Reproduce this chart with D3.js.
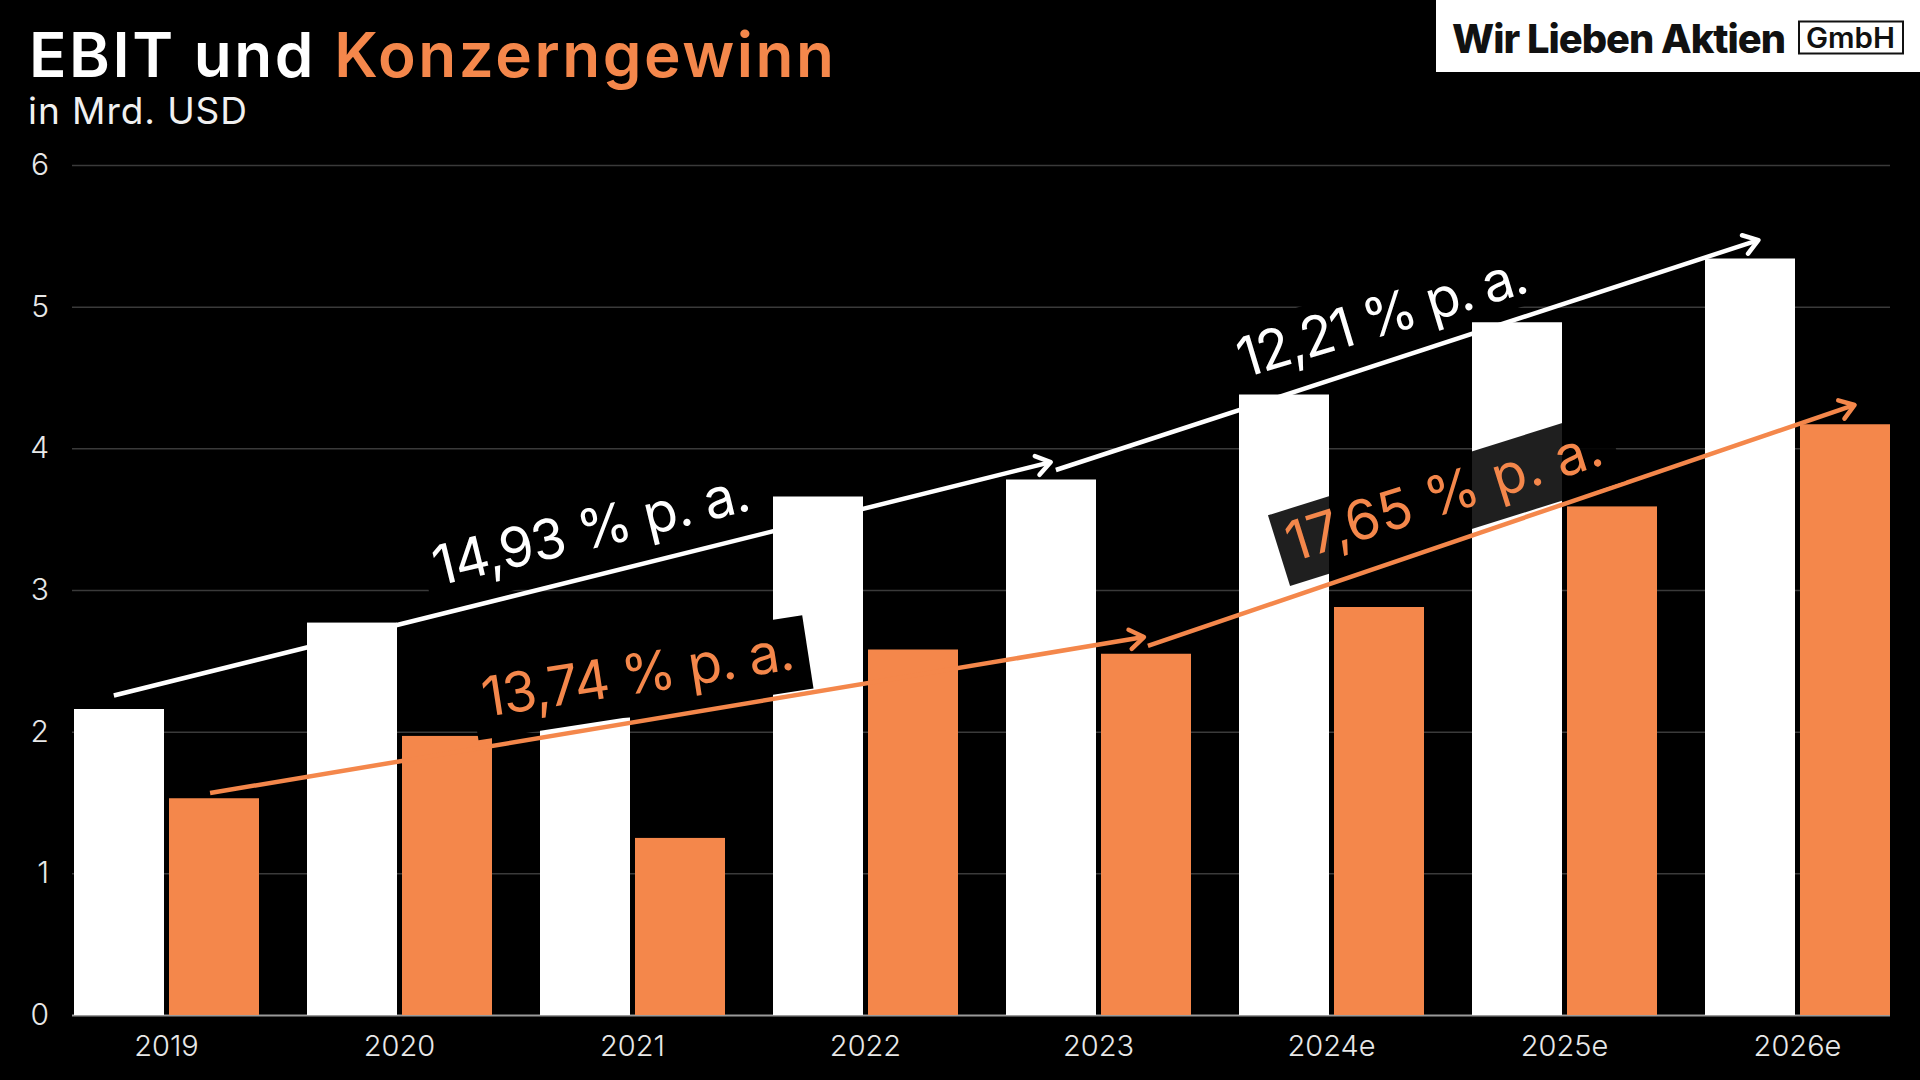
<!DOCTYPE html>
<html>
<head>
<meta charset="utf-8">
<script src="https://cdn.jsdelivr.net/npm/d3@7"></script>
<style>
  html, body { margin: 0; padding: 0; background: #000; }
  svg { display: block; }
  text { font-family: Inter, "Noto Sans", sans-serif; }
</style>
</head>
<body>
<svg id="chart" width="1920" height="1080"></svg>
<script>
// ---------- data ----------
const years = ["2019", "2020", "2021", "2022", "2023", "2024e", "2025e", "2026e"];
const ebit = [2.16, 2.77, 2.10, 3.66, 3.78, 4.38, 4.89, 5.34];
const konzerngewinn = [1.53, 1.97, 1.25, 2.58, 2.55, 2.88, 3.59, 4.17];
const yTicks = [0, 1, 2, 3, 4, 5, 6];
const seriesKeys = ["ebit", "konzerngewinn"];

// growth annotations, anchored in data space (x = year index, y = value)
const growthLabels = ["14,93 % p. a.", "13,74 % p. a.", "12,21 % p. a.", "17,65 % p. a."];
const growthSeries = ["ebit", "konzerngewinn", "ebit", "konzerngewinn"];
const arrowStartX = [0.171, 0.584, 4.214, 4.609];
const arrowStartY = [2.255, 1.567, 3.847, 2.605];
const arrowEndX = [4.192, 4.592, 7.229, 7.642];
const arrowEndY = [3.903, 2.668, 5.47, 4.306];
const labelX = [1.562, 1.764, 5.021, 5.232];
const labelY = [3.028, 2.103, 4.496, 3.198];

(function () {
// ---------- layout ----------
const W = 1920, H = 1080;
const pLeft = 74, pRight = 1890, pTop = 165, pBottom = 1015;
const WHITE = "#ffffff", ORANGE = "#F4874B";
const colors = { ebit: WHITE, konzerngewinn: ORANGE };

const svg = d3.select("#chart");
svg.append("rect").attr("width", W).attr("height", H).attr("fill", "#000");

const x0 = d3.scaleBand().domain(years).range([pLeft, pRight]).paddingInner(0.206).paddingOuter(0);
const x1 = d3.scaleBand().domain(seriesKeys).range([0, x0.bandwidth()]).paddingInner(0.0526);
const y = d3.scaleLinear().domain([0, 6]).range([pBottom, pTop]);
const xi = d3.scaleLinear().domain([0, 1]).range([pLeft, pLeft + x0.step()]);

// gridlines + y labels
const yAxis = d3.axisLeft(y).tickValues(yTicks).tickFormat(d3.format("d"))
  .tickSizeInner(-(pRight - 72)).tickSizeOuter(0).tickPadding(23);
const gy = svg.append("g").attr("transform", "translate(72,0)").call(yAxis);
gy.select(".domain").remove();
gy.selectAll(".tick line").attr("stroke", d => d === 0 ? "#9a9a9a" : "#3a3a3a").attr("stroke-width", d => d === 0 ? 2 : 1.5);
gy.selectAll(".tick text").attr("fill", "#e8e8e8").attr("font-size", 30).attr("font-weight", 300);

// bars
const rows = years.map((yr, i) => ({ year: yr, ebit: ebit[i], konzerngewinn: konzerngewinn[i] }));
const groups = svg.append("g").selectAll("g").data(rows).join("g")
  .attr("transform", d => `translate(${x0(d.year)},0)`);
groups.selectAll("rect").data(d => seriesKeys.map(k => ({ key: k, value: d[k] }))).join("rect")
  .attr("x", d => x1(d.key)).attr("width", x1.bandwidth())
  .attr("y", d => y(d.value)).attr("height", d => y(0) - y(d.value))
  .attr("fill", d => colors[d.key]);

// x axis labels
const xAxis = d3.axisBottom(x0).tickSize(0).tickPadding(20);
const gx = svg.append("g").attr("transform", `translate(0,${pBottom})`).call(xAxis);
gx.select(".domain").remove();
gx.selectAll(".tick text").attr("fill", "#e8e8e8").attr("font-size", 29).attr("font-weight", 300);

// arrows
const arrows = svg.append("g");
growthLabels.forEach((lab, i) => {
  const c = colors[growthSeries[i]];
  const xa = xi(arrowStartX[i]), ya = y(arrowStartY[i]);
  const xb = xi(arrowEndX[i]), yb = y(arrowEndY[i]);
  const ang = Math.atan2(yb - ya, xb - xa);
  arrows.append("line").attr("x1", xa).attr("y1", ya).attr("x2", xb).attr("y2", yb)
    .attr("stroke", c).attr("stroke-width", 4.5).attr("stroke-linecap", "butt");
  const L = 17, a = Math.PI / 5.2;
  const p1 = [xb - L * Math.cos(ang - a), yb - L * Math.sin(ang - a)];
  const p2 = [xb - L * Math.cos(ang + a), yb - L * Math.sin(ang + a)];
  arrows.append("path").attr("d", `M${p1[0]},${p1[1]}L${xb},${yb}L${p2[0]},${p2[1]}`)
    .attr("fill", "none").attr("stroke", c).attr("stroke-width", 4.5)
    .attr("stroke-linecap", "round").attr("stroke-linejoin", "round");
});

// rotated labels with boxes
const labelAngle = [-13.6, -8.8, -16.8, -17.4];
const labelLen = [324, 315, 300, 328];
const boxOpacity = [1, 1, 1, 0.88];
const boxBelow = [22, 22, 12, 22];
growthLabels.forEach((lab, i) => {
  const g = svg.append("g")
    .attr("transform", `translate(${xi(labelX[i])},${y(labelY[i])}) rotate(${labelAngle[i]})`);
  g.append("rect").attr("x", -10).attr("y", -52).attr("width", labelLen[i] + 24).attr("height", 52 + boxBelow[i])
    .attr("fill", "#000").attr("fill-opacity", boxOpacity[i]);
  g.append("text").attr("x", 0).attr("y", 0)
    .attr("font-size", 55).attr("font-weight", 400)
    .attr("fill", colors[growthSeries[i]])
    .attr("textLength", labelLen[i]).attr("lengthAdjust", "spacing")
    .text(lab);
});

// title
const title = svg.append("text").attr("x", 29).attr("y", 77).attr("font-size", 62).attr("font-weight", 600)
  .attr("textLength", 805).attr("lengthAdjust", "spacing");
title.append("tspan").attr("fill", WHITE).text("EBIT und ");
title.append("tspan").attr("fill", ORANGE).text("Konzerngewinn");
svg.append("text").attr("x", 28).attr("y", 124).attr("font-size", 37).attr("font-weight", 400)
  .attr("fill", "#f0f0f0").attr("textLength", 219).attr("lengthAdjust", "spacing").text("in Mrd. USD");

// logo
svg.append("rect").attr("x", 1436).attr("y", 0).attr("width", 484).attr("height", 72).attr("fill", "#fff");
svg.append("text").attr("x", 1452).attr("y", 53).attr("font-size", 40).attr("font-weight", 800)
  .attr("fill", "#111").attr("textLength", 333).attr("lengthAdjust", "spacingAndGlyphs")
  .attr("letter-spacing", -1).text("Wir Lieben Aktien");
svg.append("rect").attr("x", 1799).attr("y", 21.5).attr("width", 104).attr("height", 32)
  .attr("fill", "none").attr("stroke", "#111").attr("stroke-width", 2);
svg.append("text").attr("x", 1806).attr("y", 48).attr("font-size", 28).attr("font-weight", 600)
  .attr("fill", "#111").attr("textLength", 89).attr("lengthAdjust", "spacingAndGlyphs").text("GmbH");
})();
</script>
</body>
</html>
